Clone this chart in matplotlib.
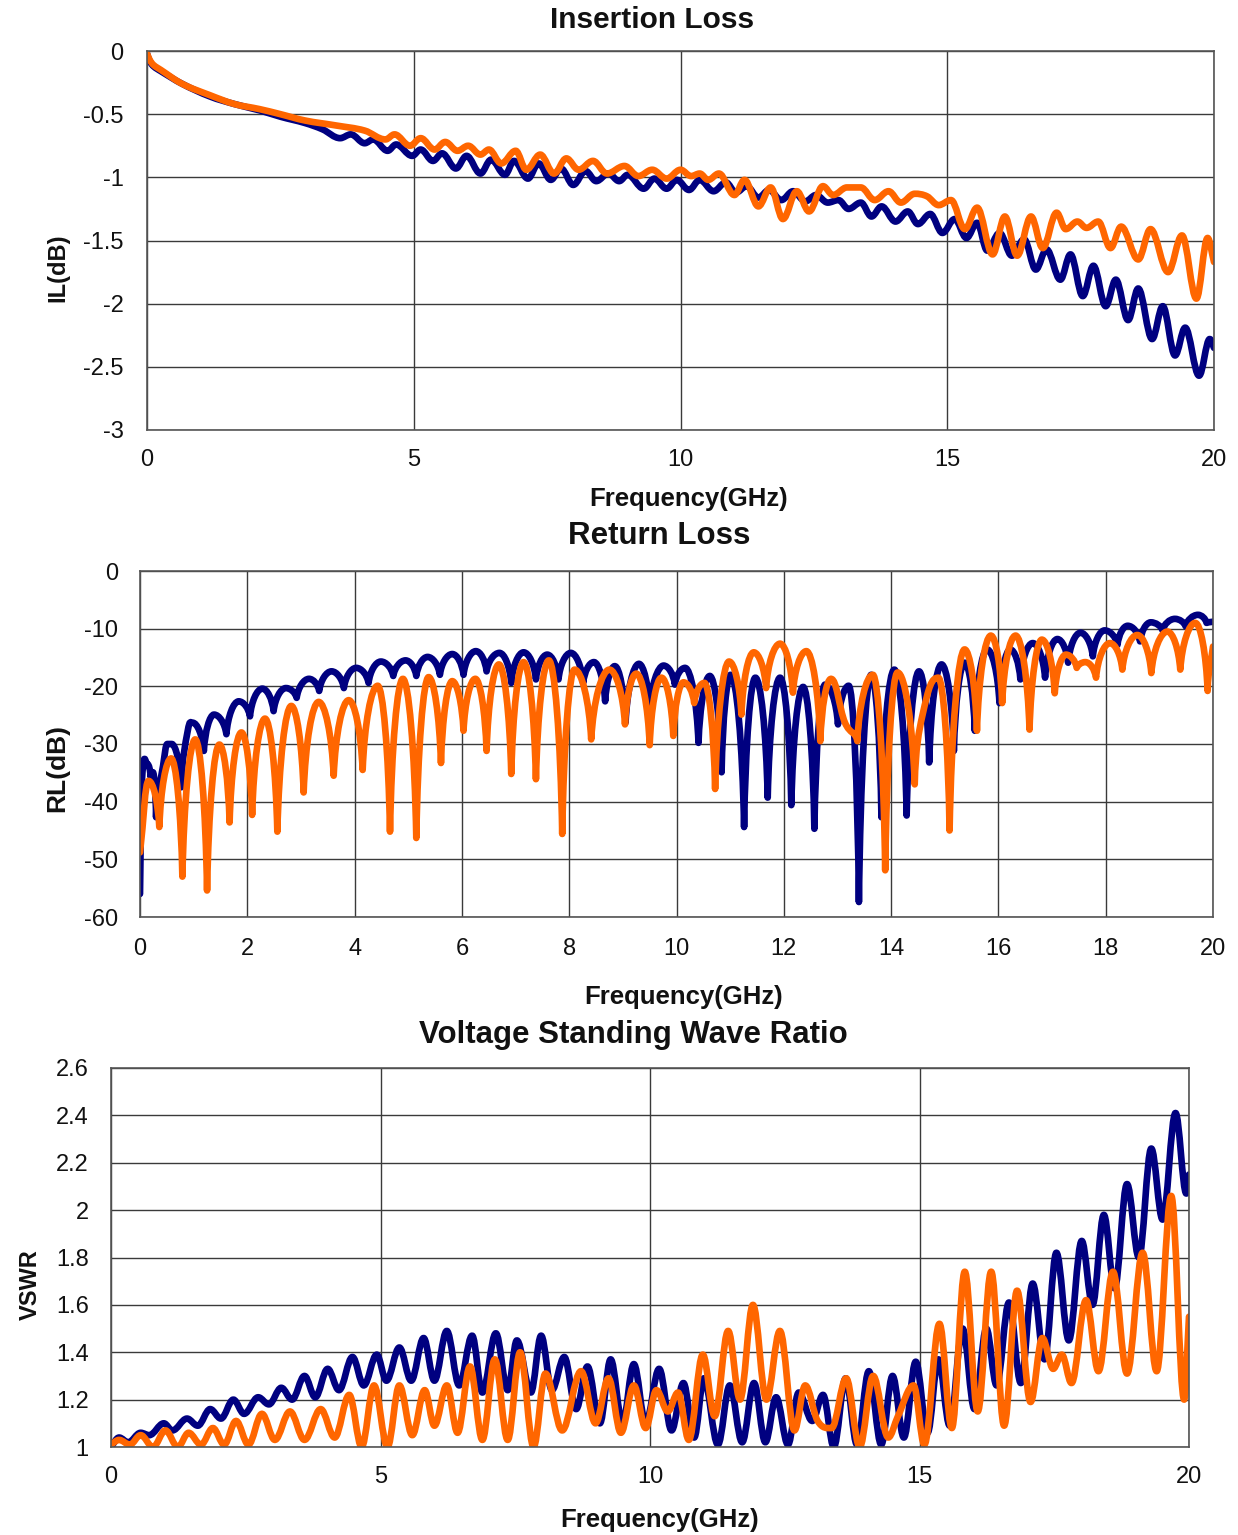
import matplotlib
matplotlib.use("Agg")
import matplotlib.pyplot as plt
from matplotlib.ticker import MultipleLocator, FuncFormatter
from matplotlib.path import Path
from matplotlib.patches import PathPatch

plt.rcParams['font.family'] = ['Liberation Sans', 'DejaVu Sans']
plt.rcParams['axes.unicode_minus'] = False

BLUE = '#000080'
ORANGE = '#ff6600'

# Insertion loss (GHz, dB) - peaks and troughs
il_blue = [(0, -0.02), (0.05, -0.08), (0.12, -0.12), (0.26, -0.16), (0.66, -0.26), (1.18, -0.36),
           (1.64, -0.42), (2.11, -0.47), (2.5, -0.52), (2.96, -0.57), (3.29, -0.62), (3.62, -0.69),
           (3.82, -0.66), (4.08, -0.73), (4.24, -0.70), (4.51, -0.79), (4.67, -0.74), (4.97, -0.83),
           (5.13, -0.78), (5.36, -0.87), (5.53, -0.81), (5.79, -0.93), (5.99, -0.83), (6.25, -0.97),
           (6.45, -0.86), (6.71, -0.98), (6.88, -0.87), (7.14, -1.01), (7.34, -0.89), (7.57, -1.02),
           (7.76, -0.93), (7.99, -1.06), (8.22, -0.95), (8.42, -1.03), (8.65, -0.97), (8.85, -1.03),
           (9.01, -0.98), (9.31, -1.09), (9.51, -1.01), (9.74, -1.09), (9.93, -1.02), (10.16, -1.10),
           (10.36, -1.02), (10.62, -1.11), (10.85, -1.04), (11.04, -1.12), (11.24, -1.07), (11.46, -1.16),
           (11.66, -1.10), (11.89, -1.18), (12.11, -1.11), (12.34, -1.19), (12.54, -1.14), (12.76, -1.20),
           (12.96, -1.18), (13.15, -1.25), (13.38, -1.20), (13.58, -1.31), (13.77, -1.23), (14.03, -1.35),
           (14.26, -1.27), (14.45, -1.37), (14.68, -1.29), (14.91, -1.44), (15.14, -1.33), (15.36, -1.48),
           (15.56, -1.36), (15.75, -1.58), (15.98, -1.44), (16.21, -1.62), (16.44, -1.49), (16.66, -1.73),
           (16.86, -1.57), (17.12, -1.81), (17.31, -1.61), (17.54, -1.94), (17.74, -1.70), (17.97, -2.02),
           (18.16, -1.81), (18.39, -2.13), (18.58, -1.88), (18.84, -2.28), (19.04, -2.02), (19.27, -2.41),
           (19.46, -2.19), (19.72, -2.57), (19.92, -2.28), (20, -2.35)]
il_orange = [(0, -0.02), (0.05, -0.07), (0.12, -0.11), (0.26, -0.15), (0.66, -0.26), (1.18, -0.35),
             (1.64, -0.42), (2.11, -0.46), (2.5, -0.50), (2.96, -0.55), (3.55, -0.59), (4.08, -0.63),
             (4.47, -0.70), (4.64, -0.66), (4.93, -0.75), (5.13, -0.69), (5.39, -0.78), (5.59, -0.72),
             (5.82, -0.79), (6.02, -0.75), (6.25, -0.82), (6.41, -0.78), (6.64, -0.89), (6.91, -0.79),
             (7.11, -0.94), (7.37, -0.82), (7.63, -0.97), (7.86, -0.85), (8.09, -0.94), (8.36, -0.87),
             (8.62, -0.97), (8.95, -0.91), (9.21, -0.99), (9.47, -0.94), (9.74, -1.01), (10.0, -0.94),
             (10.2, -0.99), (10.36, -0.97), (10.52, -1.02), (10.72, -0.97), (11.01, -1.14), (11.2, -1.02),
             (11.46, -1.23), (11.69, -1.08), (11.92, -1.33), (12.18, -1.11), (12.41, -1.27), (12.67, -1.07),
             (12.86, -1.14), (13.12, -1.08), (13.38, -1.08), (13.64, -1.18), (13.9, -1.11), (14.13, -1.20),
             (14.39, -1.13), (14.62, -1.15), (14.84, -1.22), (15.07, -1.18), (15.33, -1.41), (15.56, -1.24),
             (15.85, -1.61), (16.08, -1.31), (16.31, -1.62), (16.57, -1.31), (16.79, -1.56), (17.05, -1.28),
             (17.22, -1.41), (17.44, -1.35), (17.61, -1.40), (17.83, -1.35), (18.06, -1.56), (18.26, -1.39),
             (18.58, -1.65), (18.81, -1.41), (19.14, -1.75), (19.4, -1.46), (19.67, -1.96), (19.88, -1.48),
             (20.0, -1.67)]

# Return loss (GHz, dB)
rl_blue = [(0, -56), (0.03, -37.2), (0.14, -33.5), (0.2, -35.8), (0.24, -34.9), (0.3, -42.7),
           (0.43, -33.8), (0.51, -30), (0.59, -30), (0.77, -37.5), (0.89, -27.7), (0.98, -26.3),
           (1.19, -31.2), (1.38, -24.9), (1.61, -28.3), (1.84, -22.6), (2.05, -25.2), (2.28, -20.4),
           (2.49, -24.3), (2.72, -20.3), (2.92, -22), (3.15, -18.7), (3.34, -20.8), (3.57, -17.4),
           (3.8, -20.3), (4.03, -16.8), (4.26, -19.4), (4.49, -15.7), (4.72, -18.2), (4.95, -15.5),
           (5.15, -18.2), (5.36, -14.9), (5.59, -18), (5.82, -14.4), (6.03, -18), (6.26, -13.9),
           (6.46, -17.4), (6.7, -14.2), (6.92, -19.4), (7.15, -14.1), (7.38, -18.8), (7.59, -14.5),
           (7.8, -18.8), (8.03, -14.2), (8.26, -19.4), (8.46, -15.8), (8.67, -22.6), (8.85, -16.5),
           (9.05, -26.3), (9.3, -16.1), (9.5, -24), (9.76, -16.4), (9.97, -19.7), (10.16, -16.8),
           (10.41, -29.8), (10.62, -18.2), (10.84, -34.9), (11.01, -18), (11.26, -44.4), (11.47, -18.5),
           (11.7, -39.3), (11.93, -18.5), (12.14, -40.6), (12.36, -20.1), (12.57, -44.7), (12.77, -19.7),
           (13.01, -26.6), (13.21, -19.9), (13.4, -57.4), (13.63, -18), (13.82, -42.7), (14.06, -17.1),
           (14.29, -42.4), (14.52, -17.4), (14.71, -33.2), (14.94, -16.2), (15.17, -31.2), (15.37, -15.9),
           (15.56, -27.7), (15.79, -13.6), (16.02, -22.9), (16.22, -13.6), (16.41, -18.8), (16.64, -12.5),
           (16.87, -18.5), (17.1, -11.8), (17.3, -15.9), (17.53, -10.7), (17.76, -14.8), (17.98, -10.3),
           (18.22, -12.8), (18.41, -9.5), (18.64, -12.2), (18.84, -8.9), (19.06, -10.3), (19.29, -8.3),
           (19.49, -9.6), (19.72, -7.6), (19.88, -9.0), (20, -8.8)]
rl_orange = [(0, -48.8), (0.16, -36.4), (0.36, -44.4), (0.58, -32.5), (0.79, -53), (1.03, -29.2),
             (1.25, -55.4), (1.48, -30.1), (1.67, -43.6), (1.89, -28), (2.09, -42.3), (2.33, -25.6),
             (2.56, -45.2), (2.82, -23.4), (3.05, -38.4), (3.33, -22.7), (3.61, -35.5), (3.89, -22.4),
             (4.15, -34.5), (4.43, -19.9), (4.66, -45.2), (4.9, -18.7), (5.15, -46.3), (5.38, -18.4),
             (5.61, -33.3), (5.82, -19.1), (6.03, -27.7), (6.25, -18.7), (6.46, -31.2), (6.69, -16.2),
             (6.92, -35.2), (7.15, -15.8), (7.38, -36.1), (7.62, -15.5), (7.87, -45.6), (8.1, -17.1),
             (8.41, -29.2), (8.75, -17.1), (9.04, -26.6), (9.25, -17.8), (9.5, -30.2), (9.72, -18.5),
             (9.94, -28.6), (10.13, -19.3), (10.33, -22.9), (10.52, -19.4), (10.72, -37.8), (10.98, -15.7),
             (11.21, -24.9), (11.44, -14.1), (11.67, -20.3), (11.93, -12.6), (12.17, -21.1), (12.42, -13.9),
             (12.68, -29.5), (12.88, -18.7), (13.14, -26.3), (13.37, -29.5), (13.66, -18), (13.89, -51.9),
             (14.12, -17.6), (14.44, -37), (14.58, -25.2), (14.88, -18.5), (15.09, -45), (15.37, -13.6),
             (15.6, -27.7), (15.86, -11.2), (16.07, -22.9), (16.32, -11.2), (16.58, -27.5), (16.81, -11.9),
             (17.05, -21.2), (17.26, -14.5), (17.46, -16.8), (17.62, -15.8), (17.82, -18.5), (18.08, -12.5),
             (18.31, -17.1), (18.59, -11.1), (18.85, -17.7), (19.15, -10.5), (19.39, -17.1), (19.67, -9.0),
             (19.9, -20.8), (20, -13.1)]

# VSWR (GHz, ratio)
vswr_blue = [(0, 1.0), (0.15, 1.04), (0.32, 1.02), (0.55, 1.06), (0.71, 1.05), (0.98, 1.10), (1.14, 1.07),
             (1.41, 1.12), (1.61, 1.09), (1.84, 1.16), (2.04, 1.12), (2.27, 1.20), (2.47, 1.14), (2.73, 1.21),
             (2.93, 1.18), (3.16, 1.25), (3.36, 1.20), (3.59, 1.30), (3.79, 1.21), (4.02, 1.33), (4.23, 1.24),
             (4.48, 1.38), (4.69, 1.26), (4.93, 1.39), (5.11, 1.28), (5.35, 1.42), (5.57, 1.28), (5.8, 1.46),
             (6.0, 1.28), (6.23, 1.49), (6.46, 1.26), (6.7, 1.47), (6.89, 1.23), (7.14, 1.48), (7.36, 1.24),
             (7.53, 1.45), (7.79, 1.23), (7.98, 1.47), (8.18, 1.24), (8.41, 1.38), (8.63, 1.16), (8.84, 1.34),
             (9.07, 1.10), (9.27, 1.37), (9.49, 1.10), (9.7, 1.35), (9.92, 1.10), (10.17, 1.33), (10.4, 1.07),
             (10.62, 1.27), (10.82, 1.04), (11.0, 1.29), (11.26, 1.01), (11.48, 1.26), (11.71, 1.02),
             (11.93, 1.27), (12.14, 1.02), (12.34, 1.21), (12.56, 1.01), (12.76, 1.23), (13.01, 1.11),
             (13.21, 1.22), (13.41, 1.0), (13.63, 1.29), (13.84, 1.01), (14.06, 1.32), (14.29, 1.01),
             (14.5, 1.30), (14.71, 1.04), (14.93, 1.36), (15.15, 1.06), (15.35, 1.37), (15.56, 1.09),
             (15.8, 1.50), (16.02, 1.16), (16.24, 1.50), (16.43, 1.26), (16.66, 1.61), (16.88, 1.27),
             (17.1, 1.69), (17.32, 1.37), (17.54, 1.82), (17.77, 1.45), (18.01, 1.87), (18.21, 1.60),
             (18.42, 1.98), (18.62, 1.67), (18.85, 2.11), (19.07, 1.80), (19.3, 2.26), (19.51, 1.96),
             (19.75, 2.41), (19.95, 2.07), (20, 2.15)]
vswr_orange = [(0, 1.01), (0.15, 1.03), (0.35, 1.01), (0.55, 1.05), (0.78, 1.0), (1.01, 1.07), (1.24, 1.0),
               (1.44, 1.06), (1.67, 1.01), (1.89, 1.08), (2.1, 1.01), (2.32, 1.11), (2.55, 1.01), (2.8, 1.14),
               (3.04, 1.03), (3.32, 1.15), (3.59, 1.03), (3.89, 1.16), (4.15, 1.04), (4.42, 1.22), (4.65, 1.0),
               (4.88, 1.26), (5.13, 1.0), (5.35, 1.26), (5.59, 1.05), (5.82, 1.24), (6.0, 1.09), (6.23, 1.26),
               (6.43, 1.06), (6.66, 1.34), (6.89, 1.03), (7.12, 1.37), (7.36, 1.03), (7.59, 1.40), (7.84, 1.0),
               (8.06, 1.31), (8.37, 1.07), (8.72, 1.32), (8.99, 1.10), (9.23, 1.29), (9.46, 1.06), (9.7, 1.26),
               (9.92, 1.08), (10.12, 1.24), (10.33, 1.15), (10.52, 1.23), (10.72, 1.03), (10.98, 1.39),
               (11.2, 1.13), (11.45, 1.49), (11.67, 1.20), (11.91, 1.60), (12.16, 1.20), (12.41, 1.49),
               (12.68, 1.07), (12.88, 1.26), (13.11, 1.11), (13.37, 1.08), (13.64, 1.29), (13.89, 1.0),
               (14.14, 1.30), (14.42, 1.04), (14.6, 1.13), (14.89, 1.26), (15.09, 1.01), (15.37, 1.52),
               (15.6, 1.08), (15.84, 1.74), (16.08, 1.15), (16.33, 1.74), (16.57, 1.09), (16.81, 1.66),
               (17.06, 1.19), (17.28, 1.46), (17.48, 1.33), (17.64, 1.39), (17.82, 1.27), (18.09, 1.62),
               (18.32, 1.32), (18.59, 1.74), (18.85, 1.31), (19.14, 1.82), (19.4, 1.32), (19.67, 2.06),
               (19.91, 1.20), (20, 1.55)]

W, H = 1238, 1535
fig = plt.figure(figsize=(W / 100, H / 100), dpi=100)


def px_axes(left, right, top, bottom):
    return fig.add_axes([left / W, 1 - bottom / H, (right - left) / W, (bottom - top) / H])


def px_text(x, y, s, **kw):
    fig.text(x / W, 1 - y / H, s, ha='center', va='center', **kw)


def style(ax, xstep, ystep, ylim, xpad, ypad):
    ax.set_xlim(0, 20)
    ax.set_ylim(*ylim)
    ax.xaxis.set_major_locator(MultipleLocator(xstep))
    ax.yaxis.set_major_locator(MultipleLocator(ystep))
    ax.yaxis.set_major_formatter(FuncFormatter(lambda v, p: '{:g}'.format(round(v, 2))))
    ax.grid(True, color='#3a3a3a', lw=1.0)
    ax.set_axisbelow(True)
    ax.tick_params(axis='both', length=0, labelsize=17, colors='#111111')
    ax.tick_params(axis='x', pad=xpad)
    ax.tick_params(axis='y', pad=ypad)
    for s in ax.spines.values():
        s.set_color('#555555')
        s.set_linewidth(1.2)


def handles(pts, i, cusp_min):
    # bezier handle offsets (back, forward) at point i
    x, y = pts[i]
    n = len(pts)
    prev = pts[i - 1] if i > 0 else None
    nxt = pts[i + 1] if i < n - 1 else None
    if prev is not None and nxt is not None:
        is_max = y >= prev[1] and y >= nxt[1]
        is_min = y <= prev[1] and y <= nxt[1]
        if is_min and cusp_min:
            back = (x + (prev[0] - x) * 0.12, y + (prev[1] - y) * 0.55)
            fwd = (x + (nxt[0] - x) * 0.12, y + (nxt[1] - y) * 0.55)
            return back, fwd
        if is_max or is_min:
            m = 0.0
        else:
            m = (nxt[1] - prev[1]) / (nxt[0] - prev[0])
    else:
        a, b = (prev, (x, y)) if nxt is None else ((x, y), nxt)
        m = (b[1] - a[1]) / (b[0] - a[0])
    k = 0.42 if cusp_min else 0.36
    back = fwd = None
    if prev is not None:
        d = (x - prev[0]) * k
        back = (x - d, y - m * d)
    if nxt is not None:
        d = (nxt[0] - x) * k
        fwd = (x + d, y + m * d)
    return back, fwd


def draw(ax, pts, color, cusp_min=False):
    verts = [pts[0]]
    codes = [Path.MOVETO]
    hs = [handles(pts, i, cusp_min) for i in range(len(pts))]
    for i in range(1, len(pts)):
        verts += [hs[i - 1][1], hs[i][0], pts[i]]
        codes += [Path.CURVE4] * 3
    patch = PathPatch(Path(verts, codes), facecolor='none', edgecolor=color, lw=4.8,
                      capstyle='round', joinstyle='round')
    ax.add_patch(patch)


ax1 = px_axes(147, 1214, 51, 430)
draw(ax1, il_blue, BLUE)
draw(ax1, il_orange, ORANGE)
style(ax1, 5, 0.5, (-3, 0), 14, 17)

ax2 = px_axes(140, 1213, 571, 917)
draw(ax2, rl_blue, BLUE, cusp_min=True)
draw(ax2, rl_orange, ORANGE, cusp_min=True)
style(ax2, 2, 10, (-60, 0), 15, 16)

ax3 = px_axes(111, 1189, 1068, 1447)
draw(ax3, vswr_blue, BLUE)
draw(ax3, vswr_orange, ORANGE)
style(ax3, 5, 0.2, (1, 2.6), 14, 16)

bold = dict(fontweight='bold', color='#111111')
px_text(652, 20, 'Insertion Loss', fontsize=21.5, **bold)
px_text(659, 536, 'Return Loss', fontsize=22.5, **bold)
px_text(633, 1035, 'Voltage Standing Wave Ratio', fontsize=22.5, **bold)
px_text(689, 499, 'Frequency(GHz)', fontsize=18.5, **bold)
px_text(684, 997, 'Frequency(GHz)', fontsize=18.5, **bold)
px_text(660, 1520, 'Frequency(GHz)', fontsize=18.5, **bold)
px_text(58, 268, 'IL(dB)', fontsize=17, rotation=90, **bold)
px_text(57, 768, 'RL(dB)', fontsize=19, rotation=90, **bold)
px_text(30, 1285, 'VSWR', fontsize=17, rotation=90, **bold)

fig.savefig('out.png', dpi=100, facecolor='white')
